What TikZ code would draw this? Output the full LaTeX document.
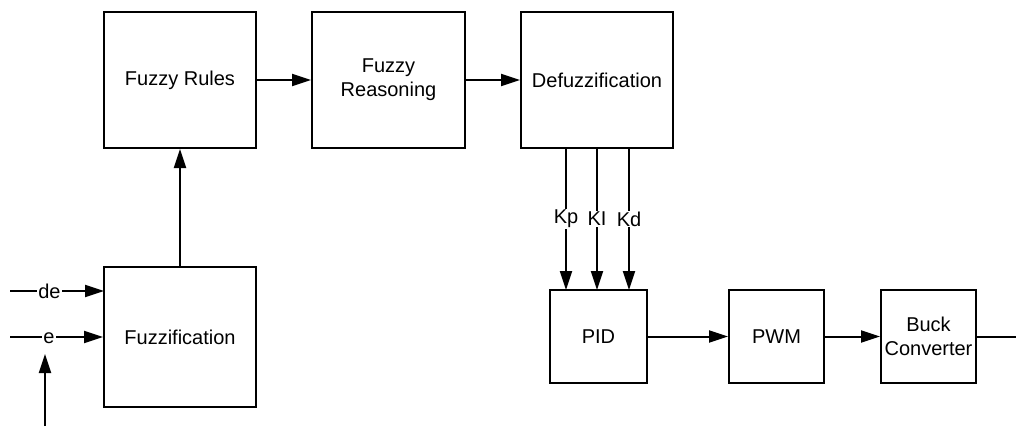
\documentclass[tikz,border=0pt]{standalone}
\usepackage{fontspec}
\setmainfont{Liberation Sans}
\usetikzlibrary{arrows.meta}
\begin{document}
\begin{tikzpicture}[x=1pt,y=-1pt,
  blk/.style={draw,line width=2pt,minimum width=#1,inner sep=0pt,align=center,font=\fontsize{20}{24}\selectfont},
  conn/.style={line width=2pt,-{Triangle[length=19pt,width=12pt]}},
  plain/.style={line width=2pt},
  lbl/.style={fill=white,inner sep=1pt,font=\fontsize{20}{24}\selectfont}]
\useasboundingbox (0,0) rectangle (1016,426);
\node[blk=152pt,minimum height=136pt] (rules) at (180,80) {Fuzzy Rules};
\node[blk=153pt,minimum height=136pt] (reas) at (388.5,80) {Fuzzy\\Reasoning};
\node[blk=152pt,minimum height=136pt] (defz) at (597,80) {Defuzzification};
\node[blk=152pt,minimum height=140pt] (fuzz) at (180,337) {Fuzzification};
\node[blk=97pt,minimum height=93pt] (pid) at (598.5,336.5) {PID};
\node[blk=95pt,minimum height=93pt] (pwm) at (776.5,336.5) {PWM};
\node[blk=95pt,minimum height=93pt] (buck) at (928.5,336.5) {Buck\\Converter};
\draw[conn] (rules.east) -- (reas.west);
\draw[conn] (reas.east) -- (defz.west);
\draw[conn] (fuzz.north) -- (rules.south);
\draw[conn] (pid.east) -- (pwm.west);
\draw[conn] (pwm.east) -- (buck.west);
\coordinate (out) at (1016,336.5);
\draw[plain] (buck.east) -- (out);
% gains
\foreach \xx/\t/\n in {566/Kp/kp,597/KI/ki,629/Kd/kd}{
  \coordinate (\n top) at (\xx,148);
  \coordinate (\n bot) at (\xx,290);
  \draw[conn] (\n top) -- (\n bot) node[lbl,pos=0.5] {\t};
}
% inputs
\coordinate (dein) at (10,291);
\coordinate (defz2) at (104,291);
\coordinate (ein) at (10,337);
\coordinate (ebot) at (45,426);
\coordinate (etip) at (45,354);
\draw[conn] (dein) -- (defz2) node[lbl,pos=0.42] {de};
\draw[conn] (ein) -- (fuzz.west) node[lbl,pos=0.42,yshift=-1pt] {e};
\draw[conn] (ebot) -- (etip);
\end{tikzpicture}
\end{document}
